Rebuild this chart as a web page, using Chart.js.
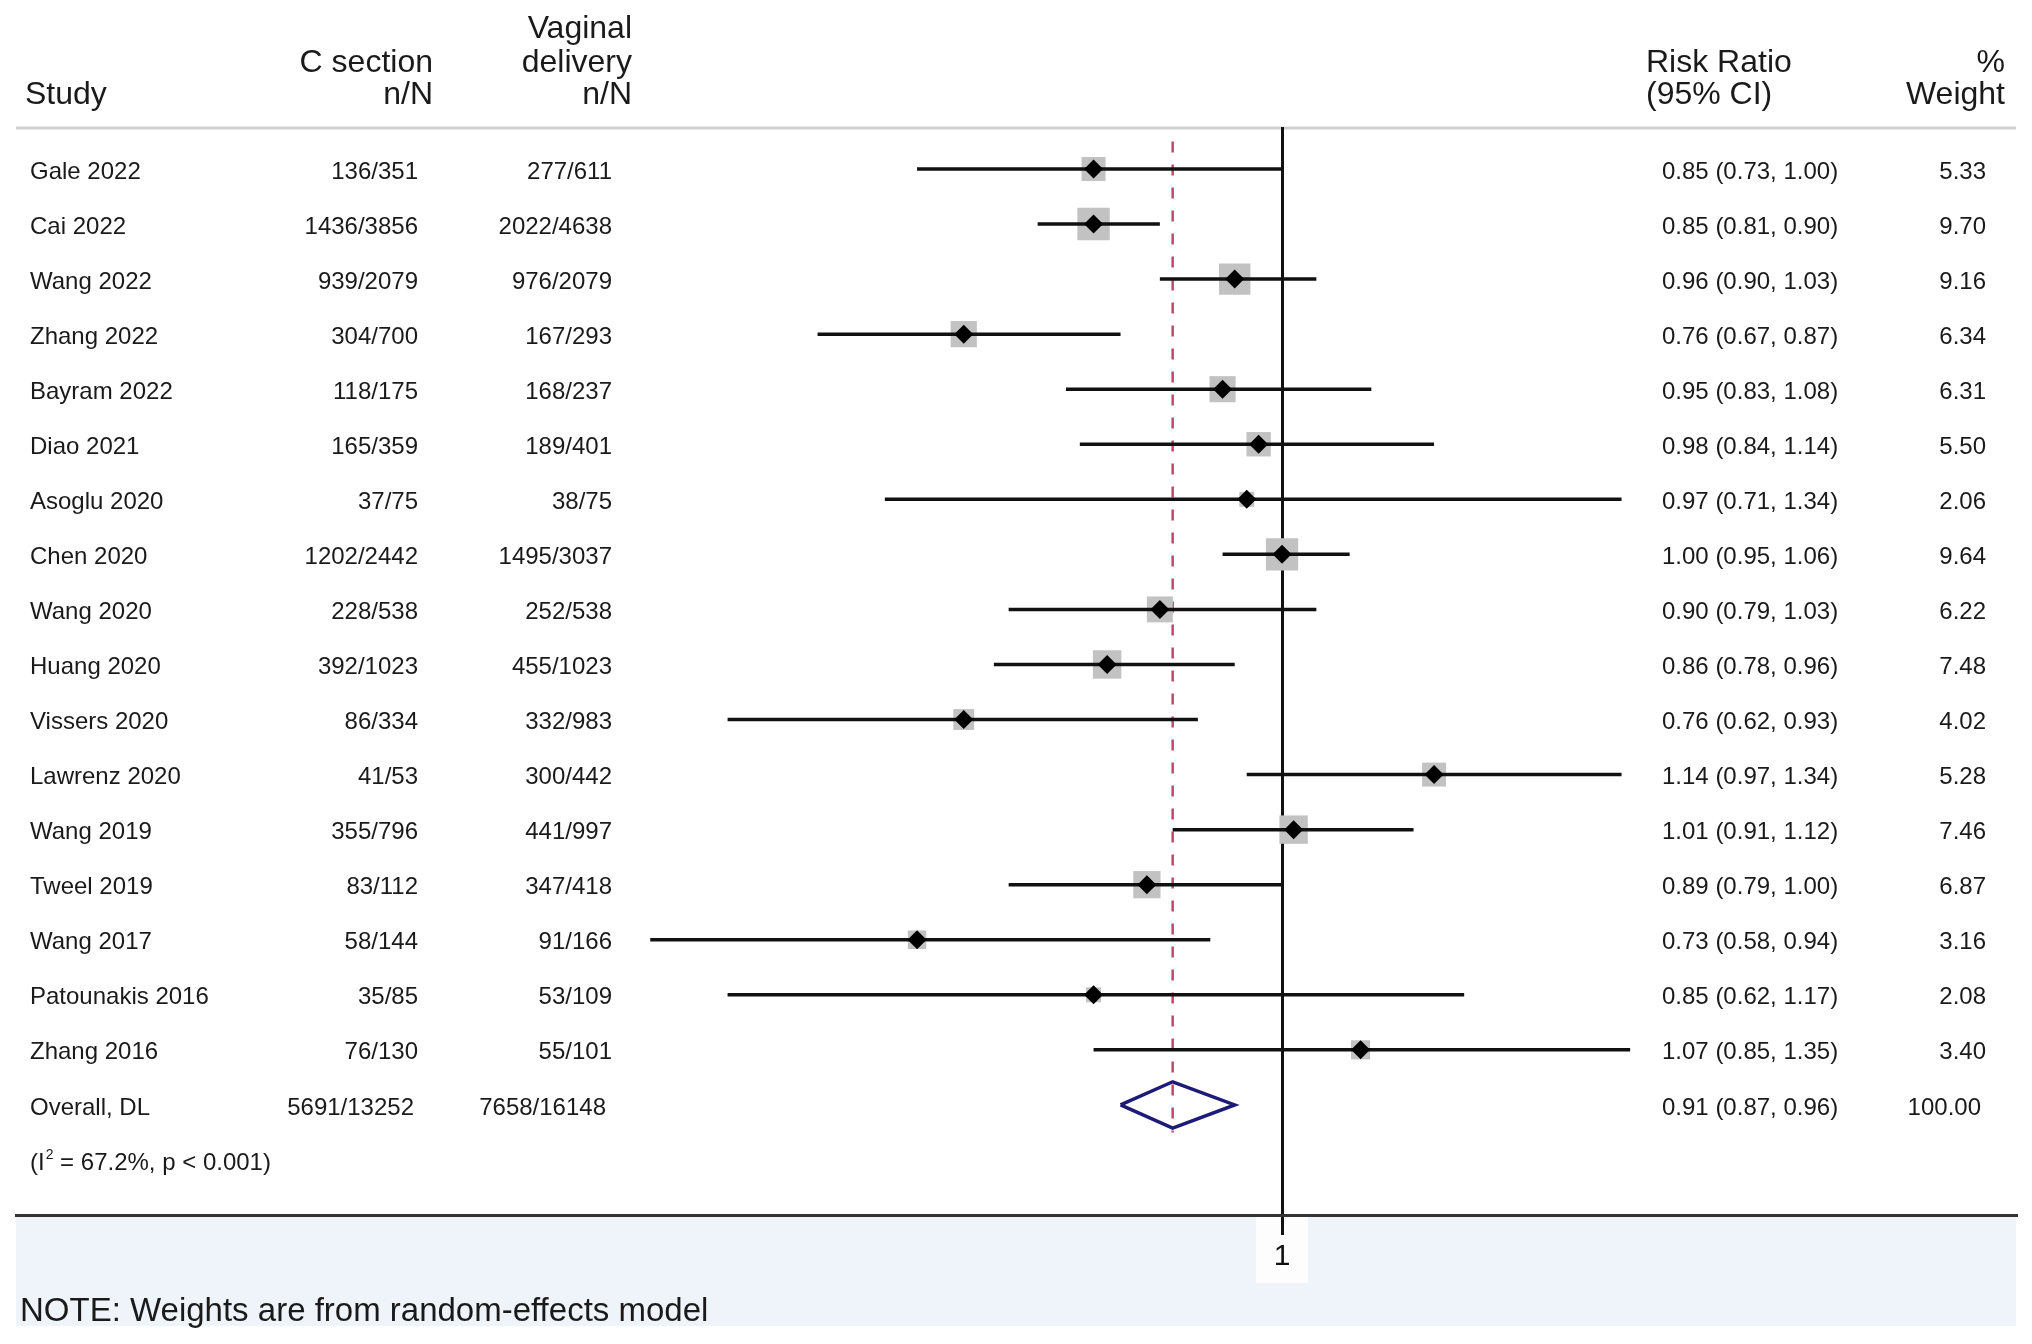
<!DOCTYPE html>
<html>
<head>
<meta charset="utf-8">
<script src="https://cdn.jsdelivr.net/npm/chart.js@4.4.1/dist/chart.umd.min.js"></script>
<style>
html, body { margin: 0; padding: 0; background: #fff; overflow: hidden; }
canvas { display: block; }
</style>
</head>
<body>
<canvas id="forest" width="2032" height="1344" style="width:2032px;height:1344px"></canvas>
<script>
var studies = ['Gale 2022', 'Cai 2022', 'Wang 2022', 'Zhang 2022', 'Bayram 2022', 'Diao 2021', 'Asoglu 2020',
  'Chen 2020', 'Wang 2020', 'Huang 2020', 'Vissers 2020', 'Lawrenz 2020', 'Wang 2019', 'Tweel 2019',
  'Wang 2017', 'Patounakis 2016', 'Zhang 2016'];
var cSection = ['136/351', '1436/3856', '939/2079', '304/700', '118/175', '165/359', '37/75', '1202/2442',
  '228/538', '392/1023', '86/334', '41/53', '355/796', '83/112', '58/144', '35/85', '76/130'];
var vaginal = ['277/611', '2022/4638', '976/2079', '167/293', '168/237', '189/401', '38/75', '1495/3037',
  '252/538', '455/1023', '332/983', '300/442', '441/997', '347/418', '91/166', '53/109', '55/101'];
var rr = [0.85, 0.85, 0.96, 0.76, 0.95, 0.98, 0.97, 1.00, 0.90, 0.86, 0.76, 1.14, 1.01, 0.89, 0.73, 0.85, 1.07];
var lo = [0.73, 0.81, 0.90, 0.67, 0.83, 0.84, 0.71, 0.95, 0.79, 0.78, 0.62, 0.97, 0.91, 0.79, 0.58, 0.62, 0.85];
var hi = [1.00, 0.90, 1.03, 0.87, 1.08, 1.14, 1.34, 1.06, 1.03, 0.96, 0.93, 1.34, 1.12, 1.00, 0.94, 1.17, 1.35];
var weight = [5.33, 9.70, 9.16, 6.34, 6.31, 5.50, 2.06, 9.64, 6.22, 7.48, 4.02, 5.28, 7.46, 6.87, 3.16, 2.08, 3.40];

var overallLabel = 'Overall, DL';
var overallC = '5691/13252';
var overallV = '7658/16148';
var overallRR = 0.91, overallLo = 0.87, overallHi = 0.96, overallW = 100.00;
var hetI2 = '67.2%', hetP = '0.001';
var xTicks = [1];

var FONT = '"Liberation Sans", Arial, Helvetica, sans-serif';
Chart.defaults.font.family = FONT;

var overallRow = studies.length;

// square side grows with sqrt of weight
function boxRadius(w) { return 7.35 * Math.sqrt(w); }

var ciSets = studies.map(function (s, i) {
  return {
    data: [{ x: lo[i], y: i }, { x: hi[i], y: i }],
    showLine: true, borderColor: '#111', borderWidth: 3.5, pointRadius: 0, order: 2
  };
});

var boxSet = {
  data: rr.map(function (v, i) { return { x: v, y: i }; }),
  pointStyle: 'rect', pointRadius: weight.map(boxRadius),
  backgroundColor: '#c2c2c2', borderWidth: 0, order: 3
};

var dotSet = {
  data: rr.map(function (v, i) { return { x: v, y: i }; }),
  pointStyle: 'rectRot', pointRadius: 9.5, backgroundColor: '#000', borderWidth: 0, order: 0
};

var dh = 0.42;
var overallSet = {
  data: [{ x: overallLo, y: overallRow }, { x: overallRR, y: overallRow - dh }, { x: overallHi, y: overallRow },
    { x: overallRR, y: overallRow + dh }, { x: overallLo, y: overallRow }],
  showLine: true, borderColor: '#1c1c78', borderWidth: 3.5, pointRadius: 0,
  borderJoinStyle: 'miter', order: 1
};

var dashSet = {
  data: [{ x: overallRR, y: -0.5 }, { x: overallRR, y: overallRow + 0.5 }],
  showLine: true, borderColor: '#c4466c', borderWidth: 2.5, borderDash: [11, 12], pointRadius: 0, order: 4
};

function txt(ctx, s, x, y, align, size) {
  ctx.font = size + 'px ' + FONT;
  ctx.textAlign = align;
  ctx.fillText(s, x, y);
}

function ci(a, b, c) { return a.toFixed(2) + ' (' + b.toFixed(2) + ', ' + c.toFixed(2) + ')'; }

var tablePlugin = {
  id: 'table',
  beforeDraw: function (chart) {
    var ctx = chart.ctx, a = chart.chartArea;
    var x1 = chart.scales.x.getPixelForValue(1);
    ctx.save();
    ctx.fillStyle = '#fff';
    ctx.fillRect(0, 0, chart.width, chart.height);
    ctx.fillStyle = '#eff4fa';
    ctx.fillRect(a.left, a.bottom + 2, a.right - a.left, 109);
    ctx.fillStyle = '#fdfdfe';
    ctx.fillRect(x1 - 26, a.bottom + 2, 52, 66);
    ctx.strokeStyle = '#cfcfcf';
    ctx.lineWidth = 3;
    ctx.beginPath();
    ctx.moveTo(a.left, a.top + 1);
    ctx.lineTo(a.right, a.top + 1);
    ctx.stroke();
    ctx.restore();
  },
  afterDraw: function (chart) {
    var ctx = chart.ctx, ys = chart.scales.y;
    ctx.save();
    ctx.fillStyle = '#1a1a1a';
    ctx.textBaseline = 'alphabetic';
    txt(ctx, 'Study', 25, 104, 'left', 32);
    txt(ctx, 'C section', 433, 72, 'right', 32);
    txt(ctx, 'n/N', 433, 104, 'right', 32);
    txt(ctx, 'Vaginal', 632, 38, 'right', 32);
    txt(ctx, 'delivery', 632, 72, 'right', 32);
    txt(ctx, 'n/N', 632, 104, 'right', 32);
    txt(ctx, 'Risk Ratio', 1646, 72, 'left', 32);
    txt(ctx, '(95% CI)', 1646, 104, 'left', 32);
    txt(ctx, '%', 2005, 72, 'right', 32);
    txt(ctx, 'Weight', 2005, 104, 'right', 32);

    ctx.textBaseline = 'middle';
    studies.forEach(function (s, i) {
      var y = ys.getPixelForValue(i) + 3;
      txt(ctx, s, 30, y, 'left', 24);
      txt(ctx, cSection[i], 418, y, 'right', 24);
      txt(ctx, vaginal[i], 612, y, 'right', 24);
      txt(ctx, ci(rr[i], lo[i], hi[i]), 1662, y, 'left', 24);
      txt(ctx, weight[i].toFixed(2), 1986, y, 'right', 24);
    });
    var yo = ys.getPixelForValue(overallRow) + 3;
    txt(ctx, overallLabel, 30, yo, 'left', 24);
    txt(ctx, overallC, 414, yo, 'right', 24);
    txt(ctx, overallV, 606, yo, 'right', 24);
    txt(ctx, ci(overallRR, overallLo, overallHi), 1662, yo, 'left', 24);
    txt(ctx, overallW.toFixed(2), 1981, yo, 'right', 24);

    // heterogeneity line with superscript
    var yh = ys.getPixelForValue(overallRow + 1) + 3;
    txt(ctx, '(I', 30, yh, 'left', 24);
    var w1 = ctx.measureText('(I').width;
    txt(ctx, '2', 30 + w1 + 1, yh - 8, 'left', 14);
    var w2 = ctx.measureText('2').width;
    txt(ctx, ' = ' + hetI2 + ', p < ' + hetP + ')', 30 + w1 + w2 + 1, yh, 'left', 24);

    ctx.textBaseline = 'alphabetic';
    txt(ctx, 'NOTE: Weights are from random-effects model', 20, 1321, 'left', 33);
    ctx.restore();
  }
};

new Chart(document.getElementById('forest'), {
  type: 'scatter',
  data: { datasets: [dotSet, overallSet].concat(ciSets, [boxSet, dashSet]) },
  options: {
    responsive: false,
    animation: false,
    events: [],
    layout: { autoPadding: false, padding: { top: 127, left: 16, right: 16, bottom: 0 } },
    plugins: { legend: { display: false }, tooltip: { enabled: false } },
    scales: {
      x: {
        type: 'logarithmic',
        min: 0.3357,
        max: 1.8828,
        bounds: 'data',
        afterBuildTicks: function (s) { s.ticks = xTicks.map(function (v) { return { value: v }; }); },
        afterFit: function (s) { s.height = 129; },
        grid: { color: '#111', lineWidth: 3, tickLength: 20, drawOnChartArea: true },
        border: { display: true, color: '#333', width: 3 },
        ticks: {
          color: '#111', font: { size: 30 }, padding: 4, maxRotation: 0, autoSkip: false,
          callback: function (v) { return String(v); }
        }
      },
      y: { type: 'linear', reverse: true, min: -0.763, max: 19.0, display: false }
    }
  },
  plugins: [tablePlugin]
});
</script>
</body>
</html>
